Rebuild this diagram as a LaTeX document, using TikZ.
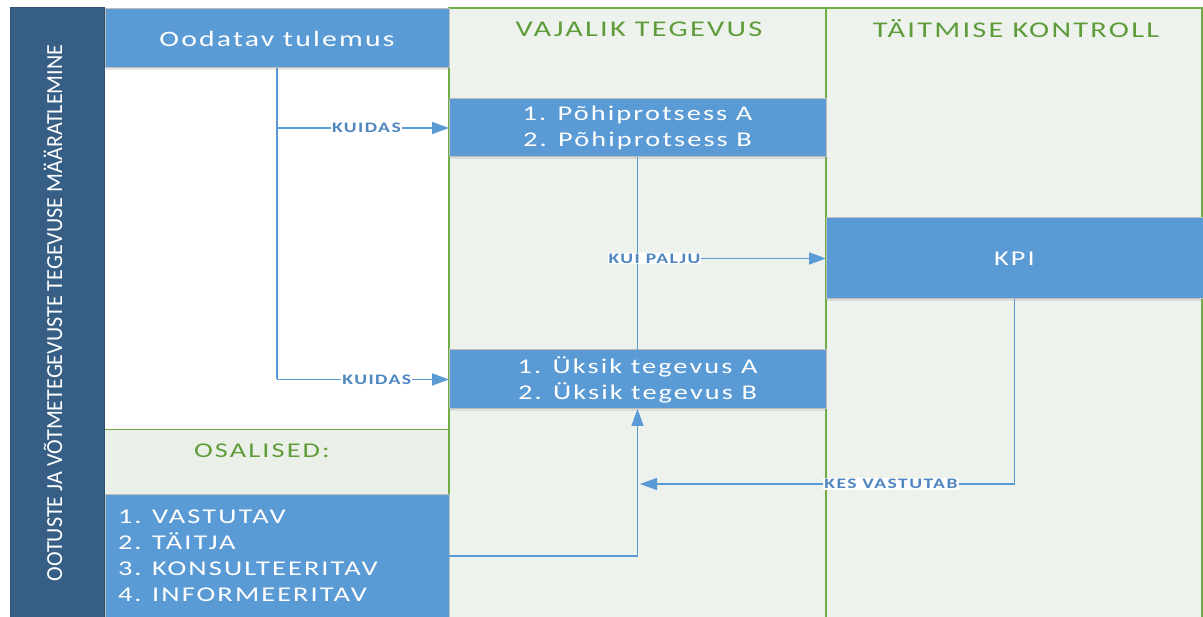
\documentclass[tikz,border=0pt]{standalone}
\usepackage{fontspec}
\usetikzlibrary{arrows.meta,shadows}
\setmainfont{Carlito}
\newfontfamily\spacedfont[LetterSpace=10,FakeStretch=1.35]{Carlito}
\newfontfamily\lblfont[LetterSpace=10,FakeStretch=1.35]{Carlito Bold}

\definecolor{boxblue}{HTML}{5B9BD5}
\definecolor{darkbar}{HTML}{375F85}
\definecolor{darkedge}{HTML}{2F5273}
\definecolor{colbg}{HTML}{EEF2ED}
\definecolor{bandbg}{HTML}{EAEFE8}
\definecolor{gline}{HTML}{70AD47}
\definecolor{gtext}{HTML}{5E9C3A}
\definecolor{lbltext}{HTML}{4F86C0}
\definecolor{boxedge}{HTML}{BDBDBD}

\begin{document}
\begin{tikzpicture}[x=1pt,y=-1pt,
  bluebox/.style={fill=boxblue,draw=boxedge,line width=1pt,text=white,
    outer sep=0pt,inner sep=0pt,anchor=north west,align=center,
    drop shadow={opacity=0.18,shadow xshift=1pt,shadow yshift=-2pt},
    font=\spacedfont\fontsize{21}{26}\selectfont},
  header/.style={text=gtext,font=\spacedfont\fontsize{22.5}{24}\selectfont},
  conn/.style={draw=boxblue,line width=1.8pt},
  arr/.style={conn,-{Triangle[length=17pt,width=12pt]}},
  lbl/.style={fill=white,inner sep=1pt,text=lbltext,
    font=\lblfont\fontsize{14.5}{14.5}\selectfont}]
\useasboundingbox (0,0) rectangle (1203,617);
\fill[white] (0,0) rectangle (1203,617);

% swimlane backgrounds
\fill[colbg] (449,8) rectangle (1202,617);
\fill[white] (105,8) rectangle (449,430);
\fill[bandbg] (105,430) rectangle (449,495);
\draw[boxedge,line width=0.8pt] (10,8) -- (449,8);
\draw[gline,line width=1.2pt] (449,617) -- (449,8) -- (1202,8) -- (1202,617);
\draw[gline,line width=1.2pt] (826,8) -- (826,617);
\draw[gline,line width=1pt] (105,430) -- (449,430);

% left title bar
\node[fill=darkbar,draw=darkedge,line width=1pt,anchor=north west,
  minimum width=94pt,minimum height=609pt,inner sep=0pt,outer sep=0pt] (side) at (10,8) {};
\node[rotate=90,text=white,inner sep=0pt] (sidetext) at (53,313)
  {\resizebox{537pt}{\height}{\fontsize{23}{23}\selectfont OOTUSTE JA VÕTMETEGEVUSTE TEGEVUSE MÄÄRATLEMINE}};

% column headers
\node[header] (h2) at (639,29) {VAJALIK TEGEVUS};
\node[header] (h3) at (1016,29) {TÄITMISE KONTROLL};
\node[header,font=\spacedfont\fontsize{21}{24}\selectfont] (h4) at (262,451) {OSALISED:};

% boxes
\node[bluebox,minimum width=344pt,minimum height=59pt] (ood) at (105,9)
  {\fontsize{22}{26}\selectfont Oodatav tulemus};
\node[bluebox,minimum width=377pt,minimum height=58pt] (pp) at (449,99)
  {1. Põhiprotsess A\\2. Põhiprotsess B};
\node[bluebox,minimum width=377pt,minimum height=81pt] (kpi) at (826,218) {KPI};
\node[bluebox,minimum width=377pt,minimum height=59pt] (uk) at (449,350)
  {1. Üksik tegevus A\\2. Üksik tegevus B};
\node[bluebox,minimum width=344pt,minimum height=122pt,align=left,
  text width=344pt,inner xsep=0pt] (osal) at (105,495)
  {\hspace*{13pt}\fontsize{21}{26}\selectfont 1. VASTUTAV\\\hspace*{13pt}2. TÄITJA\\\hspace*{13pt}3. KONSULTEERITAV\\\hspace*{13pt}4. INFORMEERITAV};

% connectors
\draw[conn] (ood.south) -- (ood.south |- uk.west);
\draw[arr] (ood.south |- pp.west) -- node[lbl,pos=0.52]{KUIDAS} (pp.west);
\draw[arr] (ood.south |- uk.west) -- node[lbl,pos=0.58]{KUIDAS} (uk.west);
\draw[conn] (pp.south) -- (uk.north);
\draw[arr] (pp.south |- kpi.west) -- node[lbl,pos=0.09]{KUI PALJU} (kpi.west);
\coordinate (kvend) at (640,484);
\draw[arr] (kpi.south) -- (kpi.south |- kvend) -- node[lbl,pos=0.33]{KES VASTUTAB} (kvend);
\draw[arr] (osal.east) -| (uk.south);
\end{tikzpicture}
\end{document}
